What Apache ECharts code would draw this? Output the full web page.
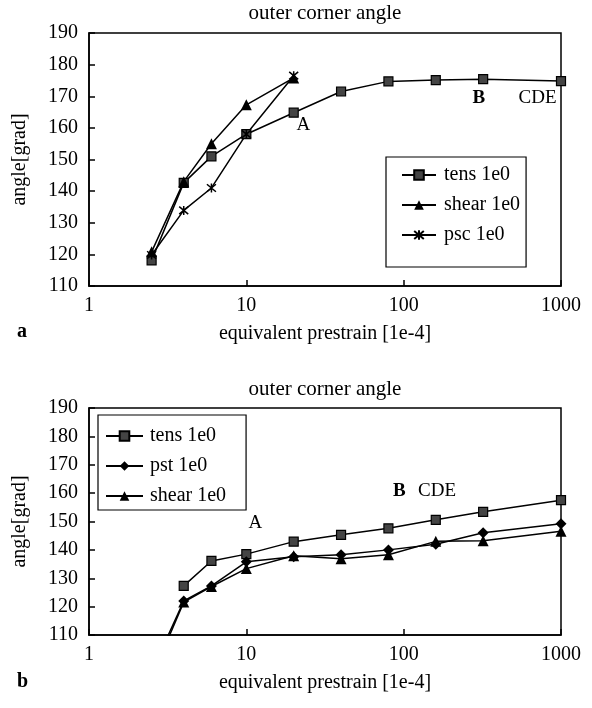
<!DOCTYPE html>
<html>
<head>
<meta charset="utf-8">
<script src="https://cdn.jsdelivr.net/npm/echarts@6/dist/echarts.min.js"></script>
<style>
  html, body { margin: 0; padding: 0; background: #fff; }
  #chart { width: 592px; height: 708px; }
</style>
</head>
<body>
<div id="chart"></div>
<script>
// Panel a: outer corner angle vs equivalent prestrain
const strainA = [2.5, 4, 6, 10, 20, 40, 80, 160, 320, 1000];
const tensA = [118.1, 142.6, 151.0, 158.0, 164.8, 171.5, 174.7, 175.1, 175.4, 174.8];
const strainShortA = [2.5, 4, 6, 10, 20];
const shearA = [120.8, 143.0, 155.0, 167.3, 175.8];
const pscA = [119.8, 133.9, 141.0, 158.0, 176.5];

// Panel b
const strainTensB = [4, 6, 10, 20, 40, 80, 160, 320, 1000];
const tensB = [127.3, 136.1, 138.5, 142.9, 145.3, 147.6, 150.6, 153.4, 157.5];
const strainB = [2.5, 4, 6, 10, 20, 40, 80, 160, 320, 1000];
const pstB = [97.0, 122.0, 127.3, 135.8, 137.6, 138.3, 140.0, 142.0, 146.0, 149.2];
const shearB = [95.0, 121.6, 127.1, 133.4, 137.9, 136.9, 138.3, 143.0, 143.2, 146.6];

// Stage markers written into each panel: [text, strain, angle]
const stagesA = [['A', 23, 161], ['B', 300, 169.5], ['CDE', 710, 169.5]];
const stagesB = [['A', 11.4, 149.5], ['B', 94, 160.6], ['CDE', 163, 160.6]];

const xTickLabels = ['1', '10', '100', '1000'];
const titleText = 'outer corner angle';
const xName = 'equivalent prestrain [1e-4]';
const yName = 'angle[grad]';

const SERIF = '"Liberation Serif", "DejaVu Serif", serif';
const INK = '#000';

const pairs = (xs, ys) => xs.map((x, i) => [x, ys[i]]);

const asterisk = 'path://M0,0L10,10M10,0L0,10M5,-1L5,11';

function xAxisFor(gridIndex) {
  return {
    type: 'log', logBase: 10, min: 1, max: 1000, gridIndex,
    name: xName, nameLocation: 'middle', nameGap: 38,
    nameTextStyle: { fontFamily: SERIF, fontSize: 20, color: INK },
    axisLine: { show: true, lineStyle: { color: INK, width: 1.5 } },
    axisTick: { show: true, inside: true, length: 6, lineStyle: { color: INK, width: 1.5 } },
    minorTick: { show: false },
    splitLine: { show: false },
    axisLabel: {
      fontFamily: SERIF, fontSize: 20, color: INK, margin: 10,
      formatter: v => { const k = Math.round(Math.log10(v)); return xTickLabels[k] !== undefined ? xTickLabels[k] : ''; }
    }
  };
}

function yAxisFor(gridIndex) {
  return {
    type: 'value', min: 110, max: 190, interval: 10, gridIndex,
    name: yName, nameLocation: 'middle', nameGap: 59, nameRotate: 90,
    nameTextStyle: { fontFamily: SERIF, fontSize: 20, color: INK },
    axisLine: { show: true, lineStyle: { color: INK, width: 1.5 } },
    axisTick: { show: true, inside: true, length: 6, lineStyle: { color: INK, width: 1.5 } },
    splitLine: { show: false },
    axisLabel: { fontFamily: SERIF, fontSize: 20, color: INK, margin: 11 }
  };
}

function lineSeries(name, data, idx, symbol, size, itemStyle) {
  return {
    type: 'line', name, data, xAxisIndex: idx, yAxisIndex: idx,
    symbol, symbolSize: size, showSymbol: true,
    lineStyle: { color: INK, width: 1.5 },
    itemStyle, color: INK,
    emphasis: { disabled: true },
    z: 3
  };
}

// 'B' is set in bold, the other stage letters in regular weight
function stageSeries(stages, idx) {
  return {
    type: 'scatter', name: 'stages' + idx, xAxisIndex: idx, yAxisIndex: idx,
    data: stages.map(([t, x, y]) => ({
      name: t, value: [x, y],
      label: { fontWeight: t === 'B' ? 'bold' : 'normal' }
    })),
    symbol: 'circle', symbolSize: 1,
    itemStyle: { color: INK, opacity: 0 },
    silent: true, z: 4,
    label: {
      show: true, position: 'inside', opacity: 1,
      formatter: p => p.name,
      fontFamily: SERIF, fontSize: 19, color: INK,
      textBorderWidth: 0
    },
    labelLayout: { hideOverlap: false }
  };
}

const squareStyle = { color: '#444', borderColor: INK, borderWidth: 1.2 };
const solidStyle = { color: INK, borderColor: INK, borderWidth: 0 };
const starStyle = { color: INK, borderColor: INK, borderWidth: 1.5 };

const option = {
  animation: false,
  backgroundColor: '#fff',
  grid: [
    { left: 89, right: 31, top: 33, height: 253, show: true, borderColor: INK, borderWidth: 1.5, backgroundColor: 'transparent' },
    { left: 89, right: 31, top: 408, height: 227, show: true, borderColor: INK, borderWidth: 1.5, backgroundColor: 'transparent' }
  ],
  xAxis: [xAxisFor(0), xAxisFor(1)],
  yAxis: [yAxisFor(0), yAxisFor(1)],
  legend: [
    {
      orient: 'vertical', left: 386, top: 157,
      data: ['tens 1e0', 'shear 1e0', 'psc 1e0'],
      padding: [8, 6, 22, 15], itemGap: 10, itemWidth: 34, itemHeight: 12,
      borderColor: INK, borderWidth: 1.2, backgroundColor: '#fff',
      textStyle: { fontFamily: SERIF, fontSize: 20, color: INK, padding: [0, 0, 0, 3] },
      selectedMode: false
    },
    {
      orient: 'vertical', left: 98, top: 415,
      data: ['tens 1e0', 'pst 1e0', 'shear 1e0'],
      padding: [11, 20, 4, 7], itemGap: 10, itemWidth: 37, itemHeight: 12,
      borderColor: INK, borderWidth: 1.2, backgroundColor: '#fff',
      textStyle: { fontFamily: SERIF, fontSize: 20, color: INK, padding: [0, 0, 0, 2] },
      selectedMode: false
    }
  ],
  graphic: [
    { type: 'text', x: 325, y: 13, style: { text: titleText, font: '21px ' + SERIF, fill: INK, textAlign: 'center', textVerticalAlign: 'middle' } },
    { type: 'text', x: 325, y: 389, style: { text: titleText, font: '21px ' + SERIF, fill: INK, textAlign: 'center', textVerticalAlign: 'middle' } },
    { type: 'text', x: 17, y: 332, style: { text: 'a', font: 'bold 20px ' + SERIF, fill: INK, textVerticalAlign: 'middle' } },
    { type: 'text', x: 17, y: 682, style: { text: 'b', font: 'bold 20px ' + SERIF, fill: INK, textVerticalAlign: 'middle' } }
  ],
  series: [
    lineSeries('tens 1e0', pairs(strainA, tensA), 0, 'rect', 9, squareStyle),
    lineSeries('shear 1e0', pairs(strainShortA, shearA), 0, 'triangle', 11, solidStyle),
    lineSeries('psc 1e0', pairs(strainShortA, pscA), 0, asterisk, 9, starStyle),
    stageSeries(stagesA, 0),

    lineSeries('tens 1e0', pairs(strainTensB, tensB), 1, 'rect', 9, squareStyle),
    lineSeries('pst 1e0', pairs(strainB, pstB), 1, 'diamond', 11, solidStyle),
    lineSeries('shear 1e0', pairs(strainB, shearB), 1, 'triangle', 11, solidStyle),
    stageSeries(stagesB, 1)
  ]
};

const chart = echarts.init(document.getElementById('chart'), null, { renderer: 'canvas' });
chart.setOption(option);
</script>
</body>
</html>
